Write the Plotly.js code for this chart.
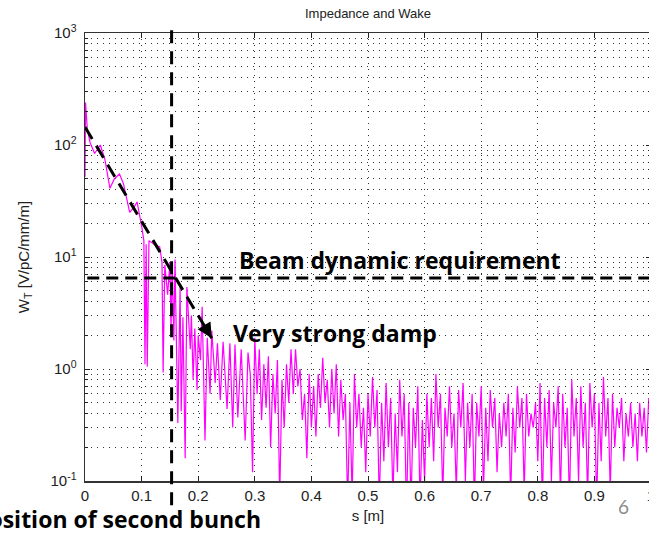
<!DOCTYPE html>
<html><head><meta charset="utf-8">
<script src="https://cdn.plot.ly/plotly-3.0.1.min.js"></script>
<style>html,body{margin:0;padding:0;overflow:hidden;background:#fff}#chart{width:700px;height:533px}</style>
</head><body><div id="chart"></div>
<script>
// ---- data ----
const sEarly = [0, 0.001, 0.004, 0.009, 0.017, 0.027, 0.035, 0.044, 0.052, 0.061, 0.068, 0.079, 0.087, 0.092, 0.1, 0.104, 0.106, 0.108, 0.11, 0.113, 0.122, 0.132, 0.136, 0.138, 0.141, 0.146, 0.150, 0.152, 0.154, 0.157, 0.159, 0.164, 0.168, 0.170, 0.173, 0.177, 0.180, 0.186, 0.188, 0.191, 0.194, 0.198, 0.200, 0.204, 0.207, 0.212, 0.216, 0.221, 0.224, 0.230, 0.234, 0.239, 0.244, 0.251, 0.256, 0.261, 0.265, 0.270, 0.276, 0.283, 0.288];
const wEarly = [52, 240, 140, 105, 84, 100, 75, 41, 50, 55, 45, 25, 28, 31, 19, 14, 1.1, 13, 1.05, 14, 13, 12.3, 9, 0.93, 8.5, 4.6, 9, 2.2, 8.9, 1.8, 9.5, 0.33, 5.4, 0.42, 2.9, 0.16, 5.4, 1.5, 3.0, 0.8, 2.3, 0.65, 2.0, 1.2, 3.6, 0.23, 1.9, 0.6, 2.2, 0.75, 1.7, 0.53, 1.75, 0.44, 1.7, 0.3, 1.65, 0.37, 1.5, 0.23, 1.4];
const noiseStartS = 0.292;
const noiseStepS = 0.004;
const wNoise = [
  0.9, 0.12, 1.9, 0.6, 1.5, 0.35, 1.1, 0.45, 1.3, 0.2,
  0.9, 0.4, 1.2, 0.07, 0.8, 0.3, 1.1, 0.5, 1.5, 0.6,
  1.5, 0.7, 1.0, 0.35, 0.6, 0.16, 0.9, 0.3, 0.7, 0.25,
  0.9, 0.45, 1.26, 0.5, 0.8, 0.3, 1.0, 0.4, 1.1, 0.25,
  0.8, 0.35, 0.6, 0.06, 0.5, 0.07, 0.9, 0.3, 0.6, 0.2,
  0.45, 0.12, 0.6, 0.25, 0.85, 0.3, 0.65, 0.06, 0.5, 0.15,
  0.75, 0.2, 0.55, 0.07, 0.4, 0.12, 0.8, 0.25, 0.6, 0.05,
  0.5, 0.06, 0.45, 0.2, 0.7, 0.06, 0.35, 0.1, 0.6, 0.2,
  0.55, 0.15, 0.9, 0.3, 0.6, 0.07, 0.45, 0.25, 0.7, 0.2,
  0.4, 0.08, 0.65, 0.3, 0.75, 0.1, 0.5, 0.2, 0.6, 0.06,
  0.5, 0.25, 0.7, 0.08, 0.45, 0.15, 0.65, 0.3, 0.55, 0.12,
  0.4, 0.2, 0.5, 0.25, 0.6, 0.07, 0.45, 0.18, 0.7, 0.3,
  0.55, 0.08, 0.6, 0.25, 0.4, 0.3, 0.5, 0.15, 0.75, 0.06,
  0.55, 0.2, 0.65, 0.1, 0.5, 0.3, 0.7, 0.07, 0.6, 0.2,
  0.45, 0.06, 0.8, 0.25, 0.55, 0.1, 0.7, 0.2, 0.5, 0.07,
  0.75, 0.3, 0.6, 0.06, 0.5, 0.15, 0.85, 0.25, 0.55, 0.08,
  0.6, 0.2, 0.45, 0.3, 0.55, 0.15, 0.4, 0.25, 0.5, 0.2,
  0.4, 0.15, 0.5, 0.25, 0.45, 0.18, 0.55, 0.3
];
const xTickVals = [0, 0.1, 0.2, 0.3, 0.4, 0.5, 0.6, 0.7, 0.8, 0.9, 1];
const xTickText = ['0', '0.1', '0.2', '0.3', '0.4', '0.5', '0.6', '0.7', '0.8', '0.9', '1'];
const yMajorVals = [0.1, 1, 10, 100, 1000];
const yMajorText = ['10<sup>-1</sup>', '10<sup>0</sup>', '10<sup>1</sup>', '10<sup>2</sup>', '10<sup>3</sup>'];
const yMinorVals = [0.2,0.3,0.4,0.5,0.6,0.7,0.8,0.9, 2,3,4,5,6,7,8,9, 20,30,40,50,60,70,80,90, 200,300,400,500,600,700,800,900];
const secondBunchS = 0.153;
const requirementW = 6.5;
const dampStart = {s: 0, w: 145};
const dampTip = {s: 0.224, w: 1.88};

// ---- build ----
const sNoise = wNoise.map((_, i) => +(noiseStartS + i * noiseStepS).toFixed(4));
const sAll = sEarly.concat(sNoise);
const wAll = wEarly.concat(wNoise);

const tickFont = {family: 'Liberation Sans, Arial, sans-serif', size: 15, color: '#222'};
const noteFont = {family: 'Open Sans, Lato, sans-serif', size: 23, color: '#000'};
const gridDash = '1px,5px';
const gridColor = '#333';

const trace = {
  x: sAll, y: wAll, type: 'scatter', mode: 'lines',
  line: {color: '#ff00ff', width: 1.2}, hoverinfo: 'skip'
};

const layout = {
  width: 700, height: 533,
  margin: {l: 85, r: 49, t: 33, b: 52},
  paper_bgcolor: '#fff', plot_bgcolor: '#fff',
  showlegend: false,
  title: {text: 'Impedance and Wake', font: {family: 'Liberation Sans, Arial, sans-serif', size: 13, color: '#222'},
          x: 0.5, xref: 'paper', xanchor: 'center', y: 0.974, yref: 'container', yanchor: 'middle'},
  xaxis: {
    range: [0, 1], tickmode: 'array', tickvals: xTickVals, ticktext: xTickText,
    ticks: 'inside', ticklen: 5, tickcolor: '#222', tickwidth: 1,
    showline: true, linecolor: '#333', linewidth: 1.5, mirror: 'ticks',
    showgrid: true, gridcolor: gridColor, gridwidth: 1, griddash: gridDash,
    zeroline: false, tickfont: tickFont,
    title: {text: 's [m]', font: tickFont, standoff: 8}
  },
  yaxis: {
    type: 'log', range: [-1, 3], tickmode: 'array', tickvals: yMajorVals, ticktext: yMajorText,
    ticks: 'inside', ticklen: 5, tickcolor: '#222', tickwidth: 1,
    showline: true, linecolor: '#333', linewidth: 1.5, mirror: 'ticks',
    showgrid: true, gridcolor: gridColor, gridwidth: 1, griddash: gridDash,
    minor: {tickmode: 'array', tickvals: yMinorVals, ticks: 'inside', ticklen: 3, tickcolor: '#222',
            showgrid: true, gridcolor: gridColor, gridwidth: 1, griddash: gridDash},
    zeroline: false, tickfont: tickFont, ticklabelstandoff: 4,
    title: {text: 'W<sub>T</sub> [V/pC/mm/m]', font: tickFont, standoff: 17}
  },
  shapes: [
    {type: 'line', xref: 'x', yref: 'paper', x0: secondBunchS, x1: secondBunchS, y0: -0.054, y1: 1.007,
     line: {color: '#000', width: 3, dash: '13px,8px'}},
    {type: 'line', xref: 'paper', yref: 'y', x0: 0.004, x1: 1, y0: requirementW, y1: requirementW,
     line: {color: '#000', width: 3, dash: '12px,7px'}},
    {type: 'line', xref: 'x', yref: 'y', x0: dampStart.s, y0: dampStart.w, x1: dampTip.s, y1: dampTip.w,
     line: {color: '#000', width: 3, dash: '14px,8px'}}
  ],
  annotations: [
    {xref: 'x', yref: 'y', x: dampTip.s, y: Math.log10(dampTip.w), text: '', showarrow: true,
     arrowhead: 2, arrowsize: 1.2, arrowwidth: 2.5, arrowcolor: '#000', ax: -9, ay: -15, standoff: 0},
    {xref: 'paper', yref: 'paper', x: 0.268, y: 0.493, xanchor: 'left', yanchor: 'middle', showarrow: false,
     text: '<b>Beam dynamic requirement</b>', font: noteFont},
    {xref: 'paper', yref: 'paper', x: 0.258, y: 0.330, xanchor: 'left', yanchor: 'middle', showarrow: false,
     text: '<b>Very strong damp</b>', font: noteFont},
    {xref: 'paper', yref: 'paper', x: 0.3145, y: -0.085, xanchor: 'right', yanchor: 'middle', showarrow: false,
     text: '<b>Position of second bunch</b>', font: noteFont},
    {xref: 'paper', yref: 'paper', x: 0.952, y: -0.056, xanchor: 'center', yanchor: 'middle', showarrow: false,
     text: '6', font: {family: 'Lato, Open Sans, sans-serif', size: 19, color: '#8c8c8c'}}
  ]
};

Plotly.newPlot('chart', [trace], layout, {displayModeBar: false, staticPlot: true});
</script></body></html>
